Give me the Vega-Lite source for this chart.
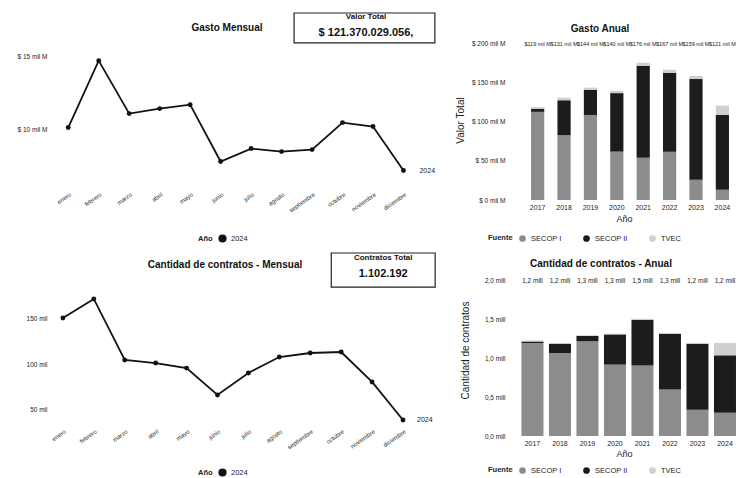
{
  "$schema": "https://vega.github.io/schema/vega-lite/v6.json",
  "background": "white",
  "padding": {"left": 17, "top": 12, "right": 0, "bottom": 0},
  "config": {
    "font": "Liberation Sans",
    "view": {"stroke": null},
    "axis": {"grid": false, "domain": false, "ticks": false, "labelColor": "#222", "titleColor": "#222", "labelFontSize": 6.5, "labelOverlap": false},
    "legend": {"labelFontSize": 7.5, "titleFontSize": 7.5, "labelColor": "#222", "titleColor": "#222", "symbolType": "circle", "symbolSize": 45, "columnPadding": 10, "direction": "horizontal", "titleOrient": "left", "orient": "none"},
    "title": {"fontSize": 10, "fontWeight": "bold", "color": "#111", "frame": "group", "anchor": "middle"}
  },
  "datasets": {
    "mensual": [
      {"mes": 1, "anio": "2024", "gasto": 10.14, "contratos": 151},
      {"mes": 2, "anio": "2024", "gasto": 14.73, "contratos": 172},
      {"mes": 3, "anio": "2024", "gasto": 11.10, "contratos": 105},
      {"mes": 4, "anio": "2024", "gasto": 11.44, "contratos": 101.6},
      {"mes": 5, "anio": "2024", "gasto": 11.71, "contratos": 96},
      {"mes": 6, "anio": "2024", "gasto": 7.81, "contratos": 66.5},
      {"mes": 7, "anio": "2024", "gasto": 8.70, "contratos": 90.7},
      {"mes": 8, "anio": "2024", "gasto": 8.49, "contratos": 108.2},
      {"mes": 9, "anio": "2024", "gasto": 8.63, "contratos": 112.6},
      {"mes": 10, "anio": "2024", "gasto": 10.48, "contratos": 113.7},
      {"mes": 11, "anio": "2024", "gasto": 10.21, "contratos": 80.8},
      {"mes": 12, "anio": "2024", "gasto": 7.19, "contratos": 39}
    ],
    "anual": [
      {"anio": "2017", "fuente": "SECOP I", "gasto": 113, "contratos": 1.20},
      {"anio": "2017", "fuente": "SECOP II", "gasto": 4, "contratos": 0.02},
      {"anio": "2017", "fuente": "TVEC", "gasto": 2, "contratos": 0.01},
      {"anio": "2018", "fuente": "SECOP I", "gasto": 83, "contratos": 1.07},
      {"anio": "2018", "fuente": "SECOP II", "gasto": 45, "contratos": 0.12},
      {"anio": "2018", "fuente": "TVEC", "gasto": 3, "contratos": 0.01},
      {"anio": "2019", "fuente": "SECOP I", "gasto": 109, "contratos": 1.22},
      {"anio": "2019", "fuente": "SECOP II", "gasto": 32, "contratos": 0.07},
      {"anio": "2019", "fuente": "TVEC", "gasto": 3, "contratos": 0.01},
      {"anio": "2020", "fuente": "SECOP I", "gasto": 62, "contratos": 0.92},
      {"anio": "2020", "fuente": "SECOP II", "gasto": 75, "contratos": 0.39},
      {"anio": "2020", "fuente": "TVEC", "gasto": 3, "contratos": 0.01},
      {"anio": "2021", "fuente": "SECOP I", "gasto": 54, "contratos": 0.91},
      {"anio": "2021", "fuente": "SECOP II", "gasto": 118, "contratos": 0.59},
      {"anio": "2021", "fuente": "TVEC", "gasto": 4, "contratos": 0.01},
      {"anio": "2022", "fuente": "SECOP I", "gasto": 62, "contratos": 0.60},
      {"anio": "2022", "fuente": "SECOP II", "gasto": 101, "contratos": 0.72},
      {"anio": "2022", "fuente": "TVEC", "gasto": 4, "contratos": 0.01},
      {"anio": "2023", "fuente": "SECOP I", "gasto": 26, "contratos": 0.34},
      {"anio": "2023", "fuente": "SECOP II", "gasto": 129, "contratos": 0.85},
      {"anio": "2023", "fuente": "TVEC", "gasto": 4, "contratos": 0.01},
      {"anio": "2024", "fuente": "SECOP I", "gasto": 13, "contratos": 0.30},
      {"anio": "2024", "fuente": "SECOP II", "gasto": 96, "contratos": 0.74},
      {"anio": "2024", "fuente": "TVEC", "gasto": 12, "contratos": 0.16}
    ],
    "kpi": [
      {"panel": "gasto", "titulo": "Valor Total", "valor": "$ 121.370.029.056,"},
      {"panel": "contratos", "titulo": "Contratos Total", "valor": "1.102.192"}
    ]
  },
  "columns": 2,
  "align": "each",
  "bounds": "flush",
  "spacing": {"row": 53, "column": 73},
  "resolve": {"scale": {"color": "independent"}, "legend": {"color": "independent"}},
  "concat": [
    {
      "width": 384,
      "height": 172,
      "title": {"text": "Gasto Mensual", "offset": -21, "dx": -18},
      "layer": [
        {
          "data": {"name": "mensual"},
          "mark": {"type": "line", "color": "#111", "strokeWidth": 1.8},
          "encoding": {
            "x": {"field": "mes", "type": "quantitative", "scale": {"domain": [0.5, 13.1], "nice": false, "zero": false},
                  "axis": {"values": [1,2,3,4,5,6,7,8,9,10,11,12], "tickCount": 12, "labelOverlap": false, "labelFontSize": 6, "labelExpr": "['enero','febrero','marzo','abril','mayo','junio','julio','agosto','septiembre','octubre','noviembre','diciembre'][datum.value - 1]", "labelAngle": -35, "labelPadding": 6, "title": null}},
            "y": {"field": "gasto", "type": "quantitative", "scale": {"domain": [6.2, 18.0], "nice": false, "zero": false},
                  "axis": {"values": [10, 15], "labelExpr": "'$ ' + datum.value + ' mil M'", "labelPadding": 6, "title": null}},
            "color": {"field": "anio", "type": "nominal", "scale": {"range": ["#111"]}, "legend": {"title": "Año", "legendX": 145, "legendY": 221}}
          }
        },
        {
          "data": {"name": "mensual"},
          "mark": {"type": "point", "filled": true, "size": 24, "opacity": 1},
          "encoding": {
            "x": {"field": "mes", "type": "quantitative"},
            "y": {"field": "gasto", "type": "quantitative"},
            "color": {"field": "anio", "type": "nominal"}
          }
        },
        {
          "data": {"name": "mensual"},
          "transform": [{"filter": "datum.mes == 12"}],
          "mark": {"type": "text", "align": "left", "dx": 16, "fontSize": 7, "fill": "#222"},
          "encoding": {
            "x": {"field": "mes", "type": "quantitative"},
            "y": {"field": "gasto", "type": "quantitative"},
            "text": {"field": "anio"}
          }
        },
        {
          "data": {"name": "kpi"},
          "transform": [{"filter": "datum.panel == 'gasto'"}],
          "mark": {"type": "rect", "fill": "white", "stroke": "#222", "strokeWidth": 1.2},
          "encoding": {"x": {"datum": 8.41}, "x2": {"datum": 13.03}, "y": {"datum": 15.95}, "y2": {"datum": 18.0}}
        },
        {
          "data": {"name": "kpi"},
          "transform": [{"filter": "datum.panel == 'gasto'"}],
          "mark": {"type": "text", "fontSize": 8, "fontWeight": "bold", "fill": "#111"},
          "encoding": {"x": {"datum": 10.77}, "y": {"datum": 17.73}, "text": {"field": "titulo"}}
        },
        {
          "data": {"name": "kpi"},
          "transform": [{"filter": "datum.panel == 'gasto'"}],
          "mark": {"type": "text", "fontSize": 11, "fontWeight": "bold", "fill": "#111"},
          "encoding": {"x": {"datum": 10.77}, "y": {"datum": 16.63}, "text": {"field": "valor"}}
        }
      ]
    },
    {
      "width": 228,
      "height": 187,
      "title": {"text": "Gasto Anual", "offset": -21, "dx": -24},
      "layer": [
        {
          "data": {"name": "anual"},
          "mark": {"type": "bar"},
          "encoding": {
            "x": {"field": "anio", "type": "ordinal", "scale": {"paddingInner": 0.5, "paddingOuter": 0.57, "align": 0.7},
                  "axis": {"title": "Año", "labelAngle": 0, "labelFontSize": 7, "labelPadding": 3, "titleFontSize": 9, "titleFontWeight": "normal", "titlePadding": 4}},
            "y": {"field": "gasto", "type": "quantitative", "stack": "zero", "scale": {"domain": [0, 239.7], "nice": false},
                  "axis": {"values": [0, 50, 100, 150, 200], "labelExpr": "'$ ' + datum.value + ' mil M'", "labelPadding": 5, "title": "Valor Total", "titleFontSize": 10, "titleFontWeight": "normal", "titleY": 107, "titlePadding": 6}},
            "color": {"field": "fuente", "type": "nominal", "scale": {"domain": ["SECOP I", "SECOP II", "TVEC"], "range": ["#8c8c8c", "#1c1c1c", "#cfcfcf"]},
                      "legend": {"title": "Fuente", "legendX": -22, "legendY": 221, "columnPadding": 20}},
            "order": {"field": "fuente", "sort": "ascending"}
          }
        },
        {
          "data": {"name": "anual"},
          "transform": [
            {"aggregate": [{"op": "sum", "field": "gasto", "as": "total_gasto"}], "groupby": ["anio"]},
            {"calculate": "'$' + format(datum.total_gasto, '.0f') + ' mil M'", "as": "etiqueta_gasto"}
          ],
          "mark": {"type": "text", "fontSize": 5.5, "fill": "#222"},
          "encoding": {"x": {"field": "anio", "type": "ordinal"}, "y": {"datum": 200}, "text": {"field": "etiqueta_gasto"}}
        }
      ]
    },
    {
      "width": 384,
      "height": 171,
      "title": {"text": "Cantidad de contratos - Mensual", "offset": -18, "dx": -20},
      "layer": [
        {
          "data": {"name": "mensual"},
          "mark": {"type": "line", "color": "#111", "strokeWidth": 1.8},
          "encoding": {
            "x": {"field": "mes", "type": "quantitative", "scale": {"domain": [0.68, 13.1], "nice": false, "zero": false},
                  "axis": {"values": [1,2,3,4,5,6,7,8,9,10,11,12], "tickCount": 12, "labelOverlap": false, "labelFontSize": 6, "labelExpr": "['enero','febrero','marzo','abril','mayo','junio','julio','agosto','septiembre','octubre','noviembre','diciembre'][datum.value - 1]", "labelAngle": -35, "labelPadding": 4, "title": null}},
            "y": {"field": "contratos", "type": "quantitative", "scale": {"domain": [34.6, 222.5], "nice": false, "zero": false},
                  "axis": {"values": [50, 100, 150], "labelExpr": "datum.value + ' mil'", "labelPadding": 6, "title": null}},
            "color": {"field": "anio", "type": "nominal", "scale": {"range": ["#111"]}, "legend": {"title": "Año", "legendX": 145, "legendY": 215}}
          }
        },
        {
          "data": {"name": "mensual"},
          "mark": {"type": "point", "filled": true, "size": 24, "opacity": 1},
          "encoding": {
            "x": {"field": "mes", "type": "quantitative"},
            "y": {"field": "contratos", "type": "quantitative"},
            "color": {"field": "anio", "type": "nominal"}
          }
        },
        {
          "data": {"name": "mensual"},
          "transform": [{"filter": "datum.mes == 12"}],
          "mark": {"type": "text", "align": "left", "dx": 14, "fontSize": 7, "fill": "#222"},
          "encoding": {
            "x": {"field": "mes", "type": "quantitative"},
            "y": {"field": "contratos", "type": "quantitative"},
            "text": {"field": "anio"}
          }
        },
        {
          "data": {"name": "kpi"},
          "transform": [{"filter": "datum.panel == 'contratos'"}],
          "mark": {"type": "rect", "fill": "white", "stroke": "#222", "strokeWidth": 1.2},
          "encoding": {"x": {"datum": 9.68}, "x2": {"datum": 13.04}, "y": {"datum": 185.1}, "y2": {"datum": 222.5}}
        },
        {
          "data": {"name": "kpi"},
          "transform": [{"filter": "datum.panel == 'contratos'"}],
          "mark": {"type": "text", "fontSize": 8, "fontWeight": "bold", "fill": "#111"},
          "encoding": {"x": {"datum": 11.36}, "y": {"datum": 217}, "text": {"field": "titulo"}}
        },
        {
          "data": {"name": "kpi"},
          "transform": [{"filter": "datum.panel == 'contratos'"}],
          "mark": {"type": "text", "fontSize": 11, "fontWeight": "bold", "fill": "#111"},
          "encoding": {"x": {"datum": 11.36}, "y": {"datum": 199.4}, "text": {"field": "valor"}}
        }
      ]
    },
    {
      "width": 228,
      "height": 183,
      "title": {"text": "Cantidad de contratos - Anual", "offset": -16, "dx": -23},
      "layer": [
        {
          "data": {"name": "anual"},
          "mark": {"type": "bar"},
          "encoding": {
            "x": {"field": "anio", "type": "ordinal", "scale": {"paddingInner": 0.2, "paddingOuter": 0.245, "align": 0.85},
                  "axis": {"title": "Año", "labelAngle": 0, "labelFontSize": 7, "labelPadding": 3, "titleFontSize": 9, "titleFontWeight": "normal", "titlePadding": 3}},
            "y": {"field": "contratos", "type": "quantitative", "stack": "zero", "scale": {"domain": [0, 2.36], "nice": false},
                  "axis": {"values": [0, 0.5, 1, 1.5, 2], "labelExpr": "replace(format(datum.value, '.1f'), '.', ',') + ' mill'", "labelPadding": 5, "title": "Cantidad de contratos", "titleFontSize": 10, "titleFontWeight": "normal", "titleY": 97, "titlePadding": 14}},
            "color": {"field": "fuente", "type": "nominal", "scale": {"domain": ["SECOP I", "SECOP II", "TVEC"], "range": ["#8c8c8c", "#1c1c1c", "#cfcfcf"]},
                      "legend": {"title": "Fuente", "legendX": -22, "legendY": 213, "columnPadding": 20}},
            "order": {"field": "fuente", "sort": "ascending"}
          }
        },
        {
          "data": {"name": "anual"},
          "transform": [
            {"aggregate": [{"op": "sum", "field": "contratos", "as": "total_contratos"}], "groupby": ["anio"]},
            {"calculate": "replace(format(datum.total_contratos, '.1f'), '.', ',') + ' mill'", "as": "etiqueta_contratos"}
          ],
          "mark": {"type": "text", "fontSize": 6.5, "fill": "#222"},
          "encoding": {"x": {"field": "anio", "type": "ordinal"}, "y": {"datum": 2}, "text": {"field": "etiqueta_contratos"}}
        }
      ]
    }
  ]
}
